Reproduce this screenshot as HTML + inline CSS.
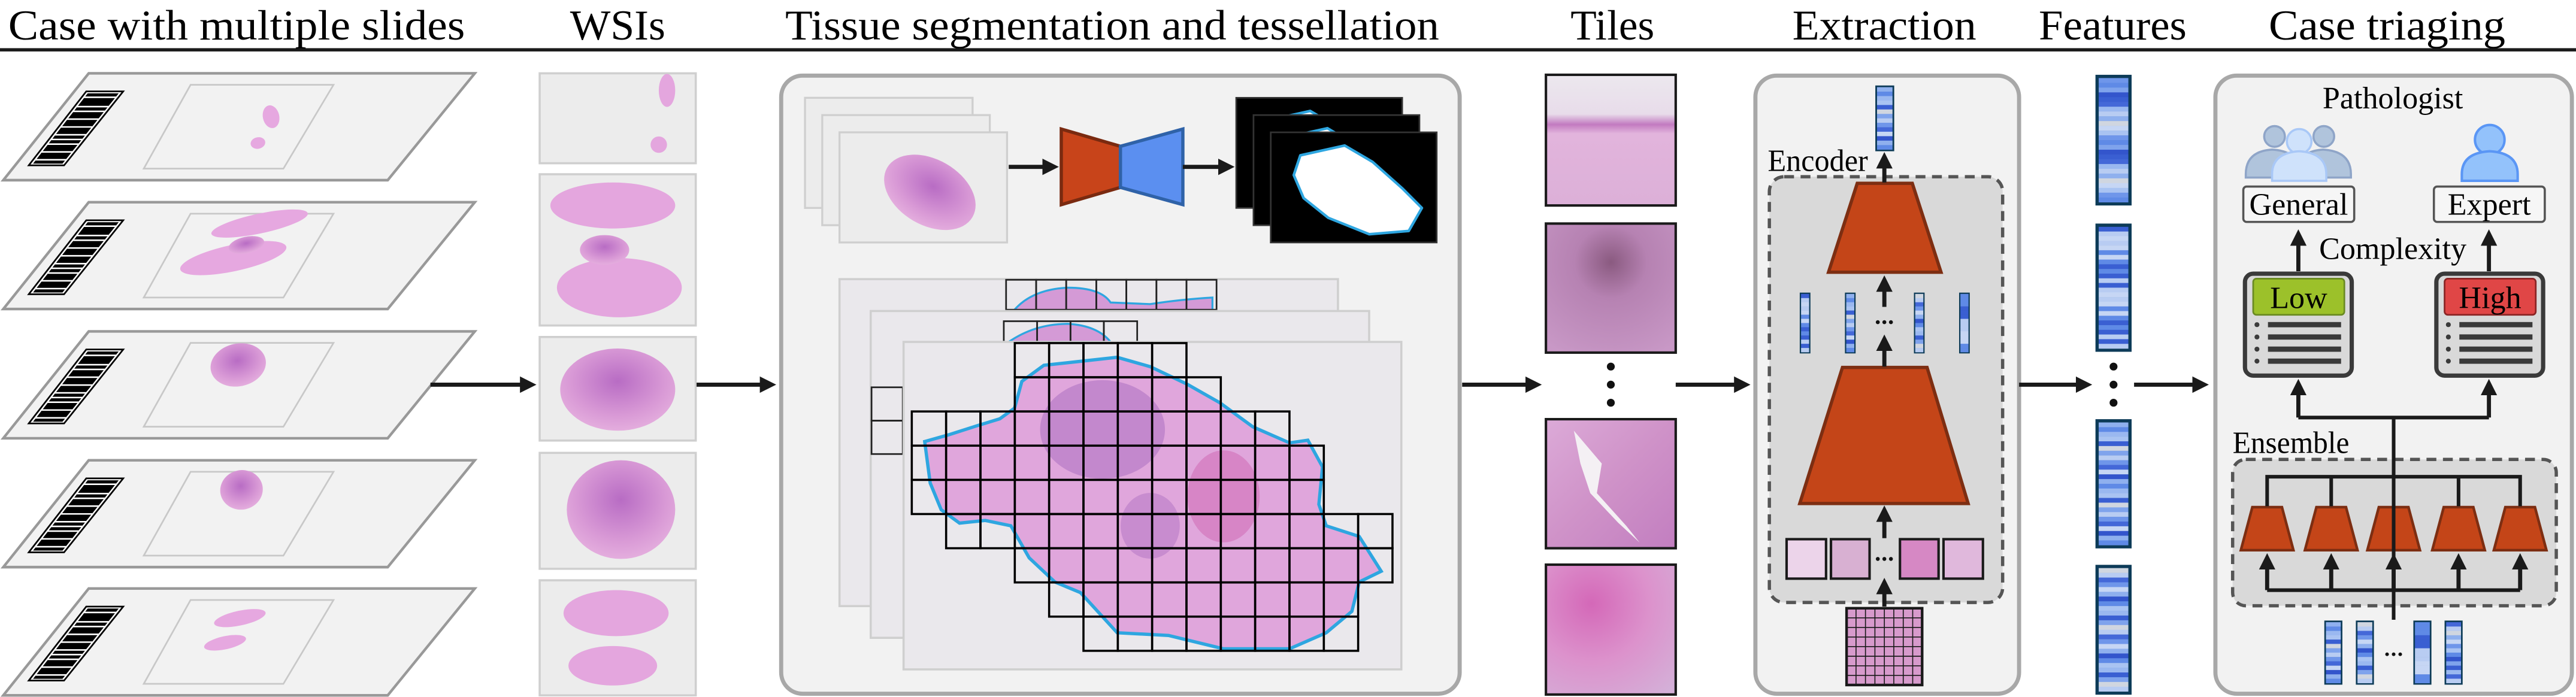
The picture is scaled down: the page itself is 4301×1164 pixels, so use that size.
<!DOCTYPE html>
<html><head><meta charset="utf-8"><style>
html,body{margin:0;padding:0;background:#fff;}
svg{display:block;}
svg text{font-family:"Liberation Serif","DejaVu Serif",serif;fill:#000;}
</style></head><body>
<svg id="fig" width="4301" height="1164" viewBox="0 0 1568 424" preserveAspectRatio="none" xmlns="http://www.w3.org/2000/svg" font-family="Liberation Serif, serif">
<defs>
<marker id="ah" markerWidth="4" markerHeight="4" refX="2.2" refY="2" orient="auto" markerUnits="strokeWidth"><path d="M0,0 L4,2 L0,4 z" fill="#1a1a1a"/></marker>
<linearGradient id="tileA" x1="0" y1="0" x2="0" y2="1"><stop offset="0" stop-color="#ece8ee"/><stop offset="0.3" stop-color="#e8dcea"/><stop offset="0.38" stop-color="#c27ac0"/><stop offset="0.45" stop-color="#e2b4dc"/><stop offset="1" stop-color="#dcb0d8"/></linearGradient>
<radialGradient id="tileB" cx="0.5" cy="0.3" r="0.8"><stop offset="0" stop-color="#8a5a80"/><stop offset="0.35" stop-color="#b682b2"/><stop offset="1" stop-color="#c898c6"/></radialGradient>
<linearGradient id="tileC" x1="0" y1="0" x2="1" y2="1"><stop offset="0" stop-color="#dcaad8"/><stop offset="0.5" stop-color="#cf92c8"/><stop offset="1" stop-color="#c27ec0"/></linearGradient>
<radialGradient id="tileD" cx="0.35" cy="0.3" r="0.9"><stop offset="0" stop-color="#d468b8"/><stop offset="0.5" stop-color="#dc92cc"/><stop offset="1" stop-color="#d4b0d8"/></radialGradient>
<radialGradient id="tis" cx="0.5" cy="0.4" r="0.7"><stop offset="0" stop-color="#b86cc4"/><stop offset="0.6" stop-color="#d99ad6"/><stop offset="1" stop-color="#eab8e2"/></radialGradient>
</defs>

<g font-size="26" font-family="Liberation Serif, serif">
<text x="5" y="24" textLength="278" lengthAdjust="spacingAndGlyphs">Case with multiple slides</text>
<text x="347" y="24" textLength="58" lengthAdjust="spacingAndGlyphs">WSIs</text>
<text x="478" y="24" textLength="398" lengthAdjust="spacingAndGlyphs">Tissue segmentation and tessellation</text>
<text x="956" y="24" textLength="51" lengthAdjust="spacingAndGlyphs">Tiles</text>
<text x="1091" y="24" textLength="112" lengthAdjust="spacingAndGlyphs">Extraction</text>
<text x="1241" y="24" textLength="90" lengthAdjust="spacingAndGlyphs">Features</text>
<text x="1381" y="24" textLength="144" lengthAdjust="spacingAndGlyphs">Case triaging</text>
</g>
<rect x="0" y="29.3" width="1568" height="2" fill="#1a1a1a"/>

<g id="slides"></g>
<g id="wsis"></g>

<rect x="475.5" y="46" width="413" height="376" rx="13" fill="#f2f2f2" stroke="#a8a8a8" stroke-width="2.5"/>
<g id="segtop"></g>
<g>
<polygon points="646,78.5 682,89 682,114 646,124.5" fill="#c8441a" stroke="#7a2a10" stroke-width="2"/>
<polygon points="682,89 720,78.5 720,124.5 682,114" fill="#5b8ff0" stroke="#2f62a8" stroke-width="2"/>
</g>
<g id="masks"></g>
<g id="tess"></g>

<g>
<rect x="941" y="45.5" width="79" height="79.5" fill="url(#tileA)" stroke="#1a1a1a" stroke-width="1.5"/>
<rect x="941" y="136" width="79" height="78.5" fill="url(#tileB)" stroke="#1a1a1a" stroke-width="1.5"/>
<g>
<rect x="941" y="255" width="79" height="78.5" fill="url(#tileC)" stroke="#1a1a1a" stroke-width="1.5"/>
<path d="M958,262 L975,282 L972,300 L990,320 L998,330 L985,318 L968,300 L962,282 Z" fill="#f4f0f4"/>
</g>
<rect x="941" y="343.5" width="79" height="79" fill="url(#tileD)" stroke="#1a1a1a" stroke-width="1.5"/>
<g fill="#111"><circle cx="980.5" cy="223" r="2.4"/><circle cx="980.5" cy="234" r="2.4"/><circle cx="980.5" cy="245" r="2.4"/></g>
</g>

<rect x="1068.5" y="46" width="160.5" height="376" rx="13" fill="#f2f2f2" stroke="#a8a8a8" stroke-width="2.5"/>
<rect x="1077" y="107.5" width="142" height="259" rx="9" fill="#d9d9d9" stroke="#555" stroke-width="2" stroke-dasharray="6,4"/>
<text x="1076" y="104" font-size="19" textLength="61" lengthAdjust="spacingAndGlyphs">Encoder</text>
<polygon points="1130.5,111.5 1164,111.5 1181.5,165.6 1113,165.6" fill="#c44518" stroke="#7d2e12" stroke-width="2"/>
<polygon points="1121.5,223.5 1173,223.5 1198,306.3 1095.5,306.3" fill="#c44518" stroke="#7d2e12" stroke-width="2"/>
<g id="extvec"></g>
<g fill="#111"><circle cx="1143" cy="196" r="1.2"/><circle cx="1147" cy="196" r="1.2"/><circle cx="1151" cy="196" r="1.2"/><circle cx="1143" cy="340" r="1.2"/><circle cx="1147" cy="340" r="1.2"/><circle cx="1151" cy="340" r="1.2"/></g>
<g stroke="#1a1a1a" stroke-width="1.5">
<rect x="1087.5" y="328" width="24" height="24" fill="#ecd4ea"/>
<rect x="1114.5" y="328" width="23.5" height="24" fill="#d8b0d2"/>
<rect x="1156.5" y="328" width="23.5" height="24" fill="#d688c4"/>
<rect x="1183" y="328" width="24" height="24" fill="#e0b8dc"/>
</g>
<g id="gridtile"></g>

<g id="feats"></g>
<g fill="#111"><circle cx="1286.5" cy="223" r="2.4"/><circle cx="1286.5" cy="234" r="2.4"/><circle cx="1286.5" cy="245" r="2.4"/></g>

<rect x="1348.5" y="46" width="217" height="376" rx="13" fill="#f2f2f2" stroke="#a8a8a8" stroke-width="2.5"/>
<text x="1456.5" y="66" font-size="19" text-anchor="middle">Pathologist</text>
<g stroke-width="1.3">
<circle cx="1384.5" cy="83" r="6.3" fill="#b0c4dc" stroke="#8fa5c8"/>
<path d="M1367,108 v-2 q0,-14 16,-15 q17,1 17,15 v2 z" fill="#b0c4dc" stroke="#8fa5c8"/>
<circle cx="1414.5" cy="83" r="6.3" fill="#b0c4dc" stroke="#8fa5c8"/>
<path d="M1398,108 v-2 q0,-14 16,-15 q17,1 17,15 v2 z" fill="#b0c4dc" stroke="#8fa5c8"/>
<circle cx="1399.5" cy="86" r="7.5" fill="#cfe2fb" stroke="#a9c8f7"/>
<path d="M1383,110 v-4 q0,-13 16.5,-14 q16.5,1 16.5,14 v4 z" fill="#cfe2fb" stroke="#a9c8f7"/>
</g>
<g stroke-width="1.5">
<circle cx="1515.5" cy="85" r="9" fill="#93c2fb" stroke="#5a96f5"/>
<path d="M1498.5,110 v-4 q0,-13 17,-14 q17,1 17,14 v4 z" fill="#93c2fb" stroke="#5a96f5"/>
</g>
<g>
<rect x="1365.5" y="113.5" width="67.5" height="21.5" rx="2" fill="#f6f6f6" stroke="#555" stroke-width="1.3"/>
<text x="1399.2" y="130.5" font-size="19" text-anchor="middle">General</text>
</g>
<g>
<rect x="1481.5" y="113.5" width="67.5" height="21.5" rx="2" fill="#f6f6f6" stroke="#555" stroke-width="1.3"/>
<text x="1515.2" y="130.5" font-size="19" text-anchor="middle">Expert</text>
</g>
<text x="1456.5" y="157.5" font-size="19" text-anchor="middle">Complexity</text>
<g id="cards"></g>
<text x="1359" y="275.5" font-size="19" textLength="71" lengthAdjust="spacingAndGlyphs">Ensemble</text>
<rect x="1359" y="279.5" width="197" height="89" rx="8" fill="#d9d9d9" stroke="#555" stroke-width="2" stroke-dasharray="6,4"/>
<g id="ens"></g>
<g id="arrows"></g>
</svg>
<script>
var NS="http://www.w3.org/2000/svg";
function mk(parent,tag,attrs){var e=document.createElementNS(NS,tag);for(var k in attrs)e.setAttribute(k,attrs[k]);parent.appendChild(e);return e;}
function $(id){return document.getElementById(id);}

var slideTops=[44.6,123,201.6,280,358];
var barPattern=[[0,2],[3,8],[9,11],[12,16],[17,21],[22,26],[27,29],[30,32],[33,37],[38,42],[43,45]];
var blobs=[
 [[165,71,5,7,0],[157,87,4.5,3.5,0]],
 [[158,136,30,6,0],[142,157,33,8,0],[150,149,11,5,1]],
 [[145,222,17,13,1]],
 [[147,298,13,12,1]],
 [[146,376,16,4.5,0],[137,391,13,4,0]]
];
var sg=$('slides');
slideTops.forEach(function(T,i){
  var g=mk(sg,'g',{});
  
  
  mk(g,'polygon',{points:'54,'+T+' 289,'+T+' 236,'+(T+65)+' 2,'+(T+65),fill:'#f2f2f2',stroke:'#999',"stroke-width":1.6});
  var bc=mk(g,'g',{});
  
  
  mk(bc,'polygon',{points:'52.5,'+(T+11)+' 75,'+(T+11)+' 39,'+(T+56)+' 17.5,'+(T+56),fill:'#fff',stroke:'#000',"stroke-width":1});
  barPattern.forEach(function(b){
    var y1=T+11+1.2+b[0]*0.95, y2=T+11+1.2+b[1]*0.95;
    function xl(y){return 52.5-(y-T-11)*(35/45)+1.8;}
    function xr(y){return 75-(y-T-11)*(36/45)-1.8;}
    mk(bc,'polygon',{points:xl(y1)+','+y1+' '+xr(y1)+','+y1+' '+xr(y2)+','+y2+' '+xl(y2)+','+y2,fill:'#000'});
  });
  mk(g,'polygon',{points:'116,'+(T+7)+' 203,'+(T+7)+' 172.5,'+(T+58)+' 87.5,'+(T+58),fill:'none',stroke:'#c8c8c8',"stroke-width":1});
  blobs[i].forEach(function(b){
    mk(g,'ellipse',{cx:b[0],cy:b[1],rx:b[2],ry:b[3],fill:b[4]?'url(#tis)':'#e6a8e0',transform:'rotate(-12 '+b[0]+' '+b[1]+')'});
  });
});

var wsiBoxes=[[44.6,99.3],[106,198],[205,268],[275.5,346],[353,423]];
var wsiBlobs=[
 [[406,55,5,10,0],[401,88,5,5,0]],
 [[373,125,38,14,0],[377,175,38,18,0],[368,152,15,9,1]],
 [[376,237,35,25,1]],
 [[378,310,33,30,1]],
 [[375,373,32,14,0],[373,405,27,12,0]]
];
var wg=$('wsis');
wsiBoxes.forEach(function(b,i){
  var g=mk(wg,'g',{});
  
  
  mk(g,'rect',{x:328.5,y:b[0],width:95,height:b[1]-b[0],fill:'#ececec',stroke:'#cfcfcf',"stroke-width":1.3});
  wsiBlobs[i].forEach(function(c){
    mk(g,'ellipse',{cx:c[0],cy:c[1],rx:c[2],ry:c[3],fill:c[4]?'url(#tis)':'#e4a6de'});
  });
});

var stackOff=[[0,0],[10.5,10.5],[21,21]];
var st=$('segtop'), ms=$('masks');
stackOff.forEach(function(o,i){
  var g=mk(st,'g',{});
  
  
  mk(g,'rect',{x:490+o[0],y:59.5+o[1],width:102,height:67,fill:'#ececec',stroke:'#cfcfcf',"stroke-width":1.2});
  mk(g,'ellipse',{cx:545+o[0],cy:96+o[1],rx:30,ry:20,fill:'url(#tis)',transform:'rotate(30 '+(545+o[0])+' '+(96+o[1])+')'});
  var m=mk(ms,'g',{});
  
  
  var cx=752.5+o[0], cy=59.5+o[1];
  mk(m,'rect',{x:cx,y:cy,width:101,height:67,fill:'#000',stroke:'#333',"stroke-width":1});
  var pts=[[18,14],[45,8],[62,18],[80,34],[92,46],[84,60],[60,62],[35,52],[20,40],[14,26]];
  mk(m,'polygon',{points:pts.map(function(p){return (cx+p[0])+','+(cy+p[1]);}).join(' '),fill:'#fff',stroke:'#2ea6e0',"stroke-width":1.6,"stroke-linejoin":"round"});
});

var tg=$('tess');
var slidesT=[[511,169.8,814.4,368.7],[530,189.2,833.4,388],[550,208,853,407.2]];
var toSX=function(zx){return 510.4+zx*0.2232;}, toSY=function(zy){return 160.4+zy*0.1627;};
slidesT.forEach(function(s,i){
  var g=mk(tg,'g',{});
  
  
  mk(g,'rect',{x:s[0],y:s[1],width:s[2]-s[0],height:s[3]-s[1],fill:'#eae8ec',stroke:'#cfcfcf',"stroke-width":1.3});
  if(i==0){
    mk(g,'path',{d:'M617,189 Q628,176 650,175 Q670,175 676,184 L700,185 Q720,182 738,181 L738,189 Z',fill:'#d49ad6',stroke:'#2ea6e0',"stroke-width":1.2});
    for(var c=0;c<7;c++) mk(g,'rect',{x:612.4+c*18.3,y:170.2,width:18.3,height:18.2,fill:'none',stroke:'#222',"stroke-width":1});
  }
  if(i==1){
    mk(g,'path',{d:'M614,208 Q630,197 650,197 Q668,198 676,208 Z',fill:'#d49ad6',stroke:'#2ea6e0',"stroke-width":1.2});
    for(var c=0;c<4;c++) mk(g,'rect',{x:611+c*20.3,y:195.4,width:20.3,height:12.6,fill:'none',stroke:'#222',"stroke-width":1});
    mk(g,'rect',{x:530.5,y:235.6,width:19,height:20.3,fill:'none',stroke:'#222',"stroke-width":1});
    mk(g,'rect',{x:530.5,y:255.9,width:19,height:20.3,fill:'none',stroke:'#222',"stroke-width":1});
  }
});
var tissueZ=[[235,665],[300,640],[380,605],[440,580],[480,540],[500,440],[560,380],[660,365],[760,350],[850,385],[950,450],[1040,520],[1130,610],[1230,670],[1280,660],[1320,760],[1310,900],[1330,980],[1420,1020],[1480,1150],[1420,1190],[1400,1300],[1330,1380],[1230,1440],[1050,1440],[900,1390],[760,1380],[700,1290],[660,1230],[590,1190],[520,1100],[470,980],[400,960],[330,970],[280,920],[250,820]];
var fg=mk(tg,'g',{});


mk(fg,'polygon',{points:tissueZ.map(function(p){return toSX(p[0])+','+toSY(p[1]);}).join(' '),fill:'#e0a6dc',stroke:'#2ea6e0',"stroke-width":2});
mk(fg,'ellipse',{cx:toSX(720),cy:toSY(620),rx:38,ry:30,fill:'#b77cc6',opacity:0.7});
mk(fg,'ellipse',{cx:toSX(1050),cy:toSY(870),rx:22,ry:28,fill:'#d070b8',opacity:0.6});
mk(fg,'ellipse',{cx:toSX(850),cy:toSY(980),rx:18,ry:20,fill:'#b77cc6',opacity:0.6});
var gridRows=[[3,7],[3,8],[0,10],[0,11],[0,11],[1,13],[3,13],[4,12],[5,12]];
var gg=mk(tg,'g',{});


gridRows.forEach(function(r,ri){
  for(var c=r[0];c<=r[1];c++){
    mk(gg,'rect',{x:555+20.9*c,y:208.7+20.8*ri,width:20.9,height:20.8,fill:'none',stroke:'#000',"stroke-width":1.3});
  }
});

var shades=['#a9c3f2','#5f8ae6','#3355cc','#8fb0ee','#c6d6f4','#6f96ea','#4468d8','#b8ccf2','#d0d6e0','#7fa3ec','#3a5fd2','#9ab8f0'];
function vector(parent,x,y,w,h,n,seed,name){
  var g=mk(parent,'g',{});
  
  
  mk(g,'rect',{x:x,y:y,width:w,height:h,fill:'#0d3b58'});
  var pad=Math.max(0.8,w*0.09), ih=(h-2*pad)/n;
  for(var k=0;k<n;k++) mk(g,'rect',{x:x+pad,y:y+pad+k*ih,width:w-2*pad,height:ih+0.1,fill:shades[(k*7+seed*5+(k%3)*seed)%shades.length]});
}
var featBoxes=[[45.5,125],[136,214],[255,333.6],[343.6,422.6]];
featBoxes.forEach(function(b,i){vector($('feats'),1275.5,b[0],22,b[1]-b[0],26,i+1,'feature-vector-'+(i+1));});
var ev=$('extvec');
vector(ev,1141.5,52,11.5,40,14,3,'encoder-output-vector');
[1095.5,1123,1165,1192.5].forEach(function(x,i){vector(ev,x,178,6.5,37,14,i+2,'tile-embedding-'+(i+1));});
var ensVec=[1414.8,1434,1469,1488];
ensVec.forEach(function(x,i){vector($('ens'),x,377.5,11,39,14,i+3,'ensemble-input-vector-'+(i+1));});
var ed=mk($('ens'),'g',{fill:'#111'});


[1453,1457,1461].forEach(function(x){mk(ed,'circle',{cx:x,cy:398,r:1.1});});

var gt=$('gridtile');
mk(gt,'rect',{x:1124,y:370,width:46,height:46.7,fill:'#d79acc',stroke:'#1a1a1a',"stroke-width":1.6});
for(var k=1;k<8;k++){
  mk(gt,'line',{x1:1124+k*46/8,y1:370,x2:1124+k*46/8,y2:416.7,stroke:'#1a1a1a',"stroke-width":0.6});
  mk(gt,'line',{x1:1124,y1:370+k*46.7/8,x2:1170,y2:370+k*46.7/8,stroke:'#1a1a1a',"stroke-width":0.6});
}

var cards=[[1366.5,'#9cc12a','#6a8a22','Low','low'],[1483,'#e04646','#8a2424','High','high']];
cards.forEach(function(c){
  var g=mk($('cards'),'g',{});
  
  
  mk(g,'rect',{x:c[0],y:166.5,width:65,height:62,rx:5,fill:'#d9d9d9',stroke:'#3a3a3a',"stroke-width":2.6});
  mk(g,'rect',{x:c[0]+5,y:169.5,width:55.5,height:22,rx:2,fill:c[1],stroke:c[2],"stroke-width":1});
  var t=mk(g,'text',{x:c[0]+32.7,y:187.5,"font-size":19,"text-anchor":"middle"});t.textContent=c[3];
  [197.5,205,212.4,219.7].forEach(function(y){
    mk(g,'circle',{cx:c[0]+7.3,cy:y,r:1.5,fill:'#3a3a3a'});
    mk(g,'rect',{x:c[0]+14,y:y-1.6,width:44.5,height:3.2,fill:'#3a3a3a'});
  });
});

var ensX=[1380,1419,1457,1496.5,1534];
var eg=$('ens');
ensX.forEach(function(x,i){
  var p=mk(eg,'polygon',{points:(x-9)+',308.5 '+(x+9)+',308.5 '+(x+16)+',334.7 '+(x-16)+',334.7',fill:'#c44518',stroke:'#7d2e12',"stroke-width":1.6});
  
  
});

var ag=$('arrows');
function arrow(x1,y1,x2,y2,name){
  var l=mk(ag,'line',{x1:x1,y1:y1,x2:x2,y2:y2,stroke:'#1a1a1a',"stroke-width":2.5,"marker-end":'url(#ah)'});
  
  
}
function line(pts,name,w){
  var l=mk(ag,'polyline',{points:pts,fill:'none',stroke:'#1a1a1a',"stroke-width":w||2.2});
  
  
}
arrow(262,234,322,234,'arrow-slides-to-wsis');
arrow(424,234,468,234,'arrow-wsis-to-segmentation');
arrow(614,101.5,640,101.5,'arrow-slide-to-network');
arrow(720,101.5,747,101.5,'arrow-network-to-mask');
arrow(890,234,934,234,'arrow-segmentation-to-tiles');
arrow(1020,234,1061,234,'arrow-tiles-to-extraction');
arrow(1229,234,1269,234,'arrow-extraction-to-features');
arrow(1299,234,1340,234,'arrow-features-to-triage');
arrow(1147,369,1147,356,'arrow-grid-to-tiles');
arrow(1147,327.4,1147,312,'arrow-tiles-to-backbone');
arrow(1147,223,1147,208,'arrow-backbone-to-embeddings');
arrow(1147,186.7,1147,172,'arrow-embeddings-to-head');
arrow(1147,111,1147,97,'arrow-head-to-output');
arrow(1399,165,1399,144,'arrow-low-to-general');
arrow(1515,165,1515,144,'arrow-high-to-expert');
line('1457,377 1457,254','ensemble-trunk');
line('1399,254 1515,254','ensemble-split');
arrow(1399,254,1399,235,'arrow-ensemble-to-low');
arrow(1515,254,1515,235,'arrow-ensemble-to-high');
line('1380,308 1380,290 1534,290 1534,308','ensemble-output-bus');
[1419,1496.5].forEach(function(x,i){line(x+',290 '+x+',308','ensemble-output-link-'+(i+1));});
line('1380,359 1534,359','ensemble-input-bus');
ensX.forEach(function(x,i){arrow(x,359,x,341,'arrow-ensemble-input-'+(i+1));});

document.querySelectorAll('text').forEach(function(t){
  t.setAttribute('font-family','Liberation Serif, serif');
  t.style.fontFamily='"Liberation Serif", serif';
});
</script>
</body></html>
